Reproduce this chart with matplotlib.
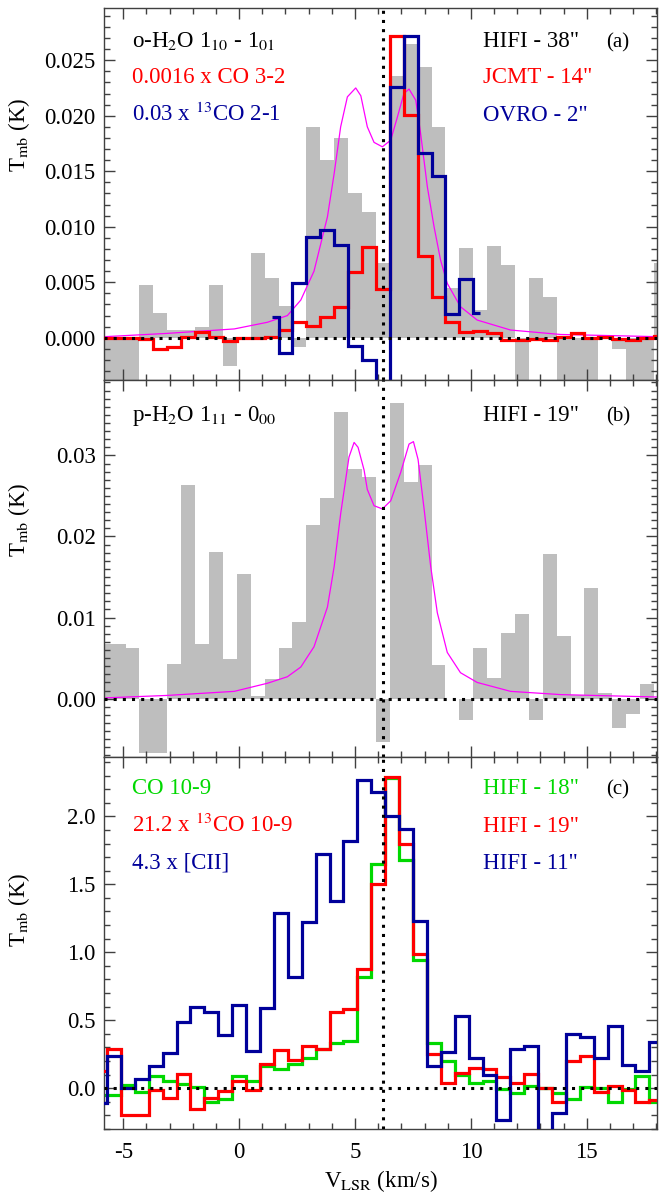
import numpy as np
import matplotlib
matplotlib.use("Agg")
import matplotlib.pyplot as plt
from matplotlib.ticker import MultipleLocator, FormatStrFormatter

plt.rcParams['font.family'] = ['Liberation Serif', 'DejaVu Serif']
plt.rcParams['mathtext.fontset'] = 'stix'
plt.rcParams['axes.unicode_minus'] = False

# HIFI channel edges (km/s), 0.6 km/s channels
edges_hifi = [-6.1, -5.5, -4.9, -4.3, -3.7, -3.1, -2.5, -1.9, -1.3, -0.7, -0.1,
              0.5, 1.1, 1.7, 2.3, 2.9, 3.5, 4.1, 4.7, 5.3, 5.9, 6.5, 7.1, 7.7,
              8.3, 8.9, 9.5, 10.1, 10.7, 11.3, 11.9, 12.5, 13.1, 13.7, 14.3,
              14.9, 15.5, 16.1, 16.7, 17.3, 17.9, 18.5]

# (a) o-H2O 1_10-1_01 (HIFI 38")
oh2o = [-0.0045, -0.0045, -0.0045, 0.0048, 0.0022, 0.0007, 0.0007, 0.0010,
        0.0048, -0.0025, 0.0001, 0.0076, 0.0054, 0.0029, -0.0008, 0.0190,
        0.0160, 0.0180, 0.0130, 0.0113, 0.0067, 0.0236, 0.0265, 0.0244,
        0.0190, 0.0045, 0.0081, 0.0025, 0.0083, 0.0066, -0.0045, 0.0054,
        0.0037, -0.0045, -0.0045, -0.0045, 0.0002, -0.0010, -0.0045,
        -0.0045, 0.0067]
# 0.0016 x CO 3-2 (JCMT)
co32 = [0.0, 0.0, 0.0, -0.0001, -0.0010, -0.0008, 0.0001, 0.0005, 0.0001,
        -0.0003, 0.0, 0.0, 0.0001, 0.0007, 0.0014, 0.0011, 0.0019, 0.0028,
        0.0059, 0.0082, 0.0044, 0.0272, 0.0201, 0.0074, 0.0037, 0.0014,
        0.0005, 0.0006, 0.0004, -0.0002, -0.0002, -0.0001, -0.0002, 0.0001,
        0.0004, 0.0, 0.0001, -0.0001, -0.0002, 0.0, 0.0002]
# 0.03 x 13CO 2-1 (OVRO)
edges_ovro = [1.4, 1.7, 2.3, 2.9, 3.5, 4.1, 4.7, 5.3, 5.9, 6.5, 7.1, 7.7, 8.3,
              8.9, 9.5, 10.1, 10.4]
co21_13 = [0.0019, -0.0014, 0.0049, 0.0091, 0.0097, 0.0084, -0.0007, -0.0020,
           -0.0120, 0.0226, 0.0272, 0.0166, 0.0146, 0.0021, 0.0053, 0.0022]
# model (a)
mod_a_v = [-5.82, -3.09, -0.21, 1.22, 2.08, 2.66, 3.23, 3.81, 4.10, 4.38, 4.67,
           5.03, 5.25, 5.53, 5.82, 6.18, 6.54, 6.83, 7.11, 7.33, 7.62, 7.83,
           8.12, 8.41, 8.69, 8.98, 9.55, 10.27, 11.71, 13.87, 18.1]
mod_a_t = [0.0001, 0.0004, 0.0008, 0.0014, 0.0020, 0.0034, 0.0060, 0.0109,
           0.0148, 0.0190, 0.0217, 0.0225, 0.0218, 0.0190, 0.0176, 0.0172,
           0.0178, 0.0199, 0.0220, 0.0224, 0.0214, 0.0184, 0.0136, 0.0100,
           0.0070, 0.0049, 0.0028, 0.0016, 0.0007, 0.0003, 0.0001]

# (b) p-H2O 1_11-0_00 (HIFI 19")
ph2o = [0.0067, 0.0067, 0.0062, -0.0067, -0.0067, 0.0043, 0.0263, 0.0067,
        0.0181, 0.0049, 0.0154, 0.0003, 0.0024, 0.0063, 0.0094, 0.0214,
        0.0247, 0.0353, 0.0283, 0.0273, -0.0053, 0.0365, 0.0267, 0.0288,
        0.0041, 0.0, -0.0026, 0.0063, 0.0025, 0.0081, 0.0104, -0.0026,
        0.0178, 0.0077, 0.0005, 0.0136, 0.0007, -0.0036, -0.0019, 0.0018, 0.0]
mod_b_v = [-5.75, -3.09, -0.21, 1.22, 2.08, 2.66, 3.23, 3.81, 4.10, 4.38, 4.74,
           4.96, 5.13, 5.39, 5.53, 5.82, 6.18, 6.54, 6.97, 7.33, 7.52, 7.72,
           7.98, 8.26, 8.55, 8.98, 9.55, 10.27, 11.71, 13.87, 18.1]
mod_b_t = [0.0001, 0.0004, 0.0009, 0.0019, 0.0027, 0.0039, 0.0064, 0.0113,
           0.0163, 0.0228, 0.0298, 0.0316, 0.0310, 0.0282, 0.0258, 0.0238,
           0.0234, 0.0244, 0.0279, 0.0314, 0.0317, 0.0295, 0.0234, 0.0164,
           0.0106, 0.0057, 0.0032, 0.0020, 0.0009, 0.0005, 0.0002]

# (c) channel edges
edges_c = [-6.3, -5.7, -5.1, -4.5, -3.9, -3.3, -2.7, -2.1, -1.5, -0.9, -0.3,
           0.3, 0.9, 1.5, 2.1, 2.7, 3.3, 3.9, 4.5, 5.1, 5.7, 6.3, 6.9, 7.5,
           8.1, 8.7, 9.3, 9.9, 10.5, 11.1, 11.7, 12.3, 12.9, 13.5, 14.1,
           14.7, 15.3, 15.9, 16.5, 17.1, 17.7, 18.3]
co109 = [-0.05, -0.05, 0.025, -0.025, 0.09, 0.05, 0.03, 0.007, -0.10, -0.08,
         0.09, 0.054, 0.16, 0.14, 0.18, 0.22, 0.29, 0.33, 0.35, 0.82, 1.65,
         2.28, 1.68, 0.94, 0.33, 0.20, 0.10, 0.037, 0.05, -0.007, -0.037,
         0.017, 0.0, -0.037, -0.08, 0.007, 0.0, -0.10, -0.007, 0.09, -0.10]
co109_13 = [0.13, 0.29, -0.20, -0.20, -0.01, -0.07, 0.105, -0.155, -0.07,
            -0.02, 0.05, -0.01, 0.18, 0.28, 0.21, 0.31, 0.29, 0.56, 0.58,
            0.88, 1.50, 2.29, 1.80, 0.99, 0.25, 0.037, 0.11, 0.15, 0.14, 0.08,
            0.037, 0.105, 0.0, -0.10, 0.20, 0.24, -0.03, 0.017, -0.012, -0.10,
            -0.086]
cii = [-0.11, 0.24, 0.0, 0.066, 0.16, 0.26, 0.485, 0.596, 0.56, 0.39, 0.61,
       0.275, 0.59, 1.29, 0.82, 1.22, 1.72, 1.38, 1.82, 2.27, 2.18, 2.0, 1.91,
       1.23, 0.16, 0.27, 0.53, 0.22, 0.10, -0.23, 0.29, 0.31, -0.35, -0.18,
       0.40, 0.38, 0.22, 0.46, 0.17, 0.13, 0.34]

v_sys = 6.2

RED = '#ff0000'
BLUE = '#00009a'
GREEN = '#00d800'
GRAY = '#bebebe'
MAG = '#ff00ff'
FS = 16.5

fig = plt.figure(figsize=(6.6, 11.95), dpi=100)
ax_a = fig.add_axes([0.1576, 0.6820, 0.8379, 0.3113])
ax_b = fig.add_axes([0.1576, 0.3665, 0.8379, 0.3155])
ax_c = fig.add_axes([0.1576, 0.0552, 0.8379, 0.3113])

# panel a
ax_a.stairs(oh2o, edges_hifi, fill=True, color=GRAY, baseline=0, zorder=1)
ax_a.plot(mod_a_v, mod_a_t, color=MAG, lw=0.9, zorder=2)
ax_a.stairs(co32, edges_hifi, color=RED, lw=2.3, baseline=None, zorder=3)
ax_a.stairs(co21_13, edges_ovro, color=BLUE, lw=2.3, baseline=None, zorder=4)
ax_a.set_ylim(-0.0038, 0.0297)

# panel b
ax_b.stairs(ph2o, edges_hifi, fill=True, color=GRAY, baseline=0, zorder=1)
ax_b.plot(mod_b_v, mod_b_t, color=MAG, lw=0.9, zorder=2)
ax_b.set_ylim(-0.0072, 0.0393)

# panel c
ax_c.stairs(co109, edges_c, color=GREEN, lw=2.3, baseline=None, zorder=2)
ax_c.stairs(co109_13, edges_c, color=RED, lw=2.3, baseline=None, zorder=3)
ax_c.stairs(cii, edges_c, color=BLUE, lw=2.3, baseline=None, zorder=4)
ax_c.set_ylim(-0.30, 2.436)

for ax, maj, mnr, fmt, ylab in [(ax_a, 0.005, 0.001, '%.3f', 0.66),
                                (ax_b, 0.01, 0.001, '%.2f', 0.63),
                                (ax_c, 0.5, 0.1, '%.1f', 0.59)]:
    ax.set_xlim(-5.83, 18.03)
    ax.axhline(0, color='k', lw=2.2, ls=(0, (1, 2)), zorder=6)
    ax.axvline(v_sys, color='k', lw=2.2, ls=(0, (1, 2)), zorder=6)
    ax.xaxis.set_major_locator(MultipleLocator(5))
    ax.xaxis.set_minor_locator(MultipleLocator(1))
    ax.yaxis.set_major_locator(MultipleLocator(maj))
    ax.yaxis.set_minor_locator(MultipleLocator(mnr))
    ax.yaxis.set_major_formatter(FormatStrFormatter(fmt))
    ax.tick_params(which='both', direction='in', top=True, right=True,
                   labelsize=FS, color='0.25', pad=6)
    ax.tick_params(which='major', length=8, width=1)
    ax.tick_params(which='minor', length=4.5, width=1)
    for s in ax.spines.values():
        s.set_color('0.25')
        s.set_linewidth(1)
    ax.set_ylabel(r'T$_{\rm mb}$ (K)', fontsize=FS)
    ax.yaxis.set_label_coords(-0.13, ylab)

ax_a.tick_params(labelbottom=False)
ax_b.tick_params(labelbottom=False)
ax_c.tick_params(axis='x', pad=9)
ax_c.set_xlabel(r'V$_{\rm LSR}$ (km/s)', fontsize=FS)
ax_c.xaxis.set_label_coords(0.5, -0.105)

# annotations
xl, xr, xp = 0.05, 0.685, 0.908
ax_a.text(xl, 0.895, r'o-H$_2$O 1$_{10}$ - 1$_{01}$', transform=ax_a.transAxes, fontsize=FS, color='k')
ax_a.text(xl, 0.798, '0.0016 x CO 3-2', transform=ax_a.transAxes, fontsize=FS, color=RED)
ax_a.text(xl, 0.696, r'0.03 x $^{13}$CO 2-1', transform=ax_a.transAxes, fontsize=FS, color=BLUE)
ax_a.text(xr, 0.895, 'HIFI - 38"', transform=ax_a.transAxes, fontsize=FS, color='k')
ax_a.text(xr, 0.798, 'JCMT - 14"', transform=ax_a.transAxes, fontsize=FS, color=RED)
ax_a.text(xr, 0.696, 'OVRO - 2"', transform=ax_a.transAxes, fontsize=FS, color=BLUE)
ax_a.text(xp, 0.895, '(a)', transform=ax_a.transAxes, fontsize=FS - 1.5, color='k')

ax_b.text(xl, 0.891, r'p-H$_2$O 1$_{11}$ - 0$_{00}$', transform=ax_b.transAxes, fontsize=FS, color='k')
ax_b.text(xr, 0.891, 'HIFI - 19"', transform=ax_b.transAxes, fontsize=FS, color='k')
ax_b.text(xp, 0.891, '(b)', transform=ax_b.transAxes, fontsize=FS - 1.5, color='k')

ax_c.text(xl, 0.900, 'CO 10-9', transform=ax_c.transAxes, fontsize=FS, color=GREEN)
ax_c.text(xl, 0.798, r'21.2 x $^{13}$CO 10-9', transform=ax_c.transAxes, fontsize=FS, color=RED)
ax_c.text(xl, 0.700, '4.3 x [CII]', transform=ax_c.transAxes, fontsize=FS, color=BLUE)
ax_c.text(xr, 0.900, 'HIFI - 18"', transform=ax_c.transAxes, fontsize=FS, color=GREEN)
ax_c.text(xr, 0.798, 'HIFI - 19"', transform=ax_c.transAxes, fontsize=FS, color=RED)
ax_c.text(xr, 0.700, 'HIFI - 11"', transform=ax_c.transAxes, fontsize=FS, color=BLUE)
ax_c.text(xp, 0.900, '(c)', transform=ax_c.transAxes, fontsize=FS - 1.5, color='k')

fig.savefig('out.png', dpi=100)
